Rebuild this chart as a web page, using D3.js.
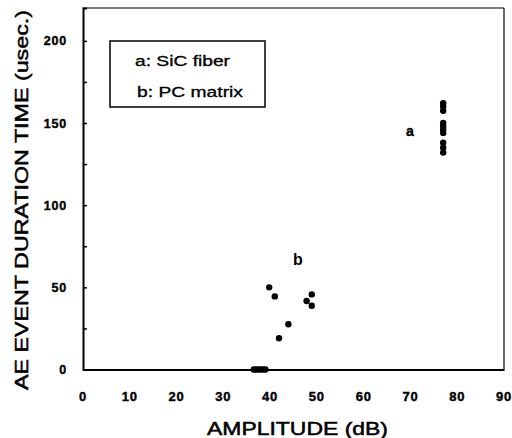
<!DOCTYPE html>
<html><head><meta charset="utf-8">
<script src="https://cdn.jsdelivr.net/npm/d3@7"></script>
<style>body{margin:0;background:#fff}svg{display:block}text{font-family:"Liberation Sans",Arial,sans-serif;fill:#000}</style>
</head><body>
<svg id="c" width="512" height="438"></svg>
<script>
// Data
const xTicks = [0,10,20,30,40,50,60,70,80,90];
const yTicks = [0,50,100,150,200];
const yMinorTicks = [0,25,50,75,100,125,150,175,200];
const fiberAmp = [77,77,77,77,77,77,77,77,77,77];
const fiberDur = [162,160,157.5,150,148,146,144,138,135,132];
const matrixAmp = [36.5,37,37.5,38,38.5,39,39.8,41,41.9,43.9,47.8,48.9,48.9];
const matrixDur = [0,0,0,0,0,0,50,44.5,19,27.5,41.7,45.7,38.8];
const legendLines = ["a: SiC fiber","b: PC matrix"];

const svg = d3.select("#c");
const L=83, R=504, T=8, B=369.5;
const x = d3.scaleLinear().domain([0,90]).range([L,R]);
const y = d3.scaleLinear().domain([0,220]).range([B,T]);

// frame
svg.append("line").attr("x1",L).attr("x2",R).attr("y1",T).attr("y2",T).attr("stroke","#000").attr("stroke-width",1.2);
svg.append("line").attr("x1",R).attr("x2",R).attr("y1",T).attr("y2",B).attr("stroke","#000").attr("stroke-width",1.2);

// y axis with inward ticks
const yAxis = d3.axisRight(y).tickValues(yMinorTicks).tickSize(4).tickFormat("");
const ya = svg.append("g").attr("transform",`translate(${L},0)`).call(yAxis);
ya.select(".domain").attr("stroke-width",2);
ya.selectAll(".tick line").attr("stroke-width",1.5);
// y labels
svg.append("g").selectAll("text").data(yTicks).join("text")
  .attr("x",67).attr("y",d=>y(d)+4.5).attr("text-anchor","end")
  .attr("font-size",12.5).attr("font-weight","bold").attr("letter-spacing",0.8)
  .attr("stroke","#000").attr("stroke-width",0.4)
  .text(d=>d);

// x axis
const xAxis = d3.axisBottom(x).tickValues(xTicks).tickSize(0).tickFormat("");
const xa = svg.append("g").attr("transform",`translate(0,${B})`).call(xAxis);
xa.select(".domain").attr("stroke-width",2);
svg.append("g").selectAll("text").data(xTicks).join("text")
  .attr("x",d=>x(d)).attr("y",401).attr("text-anchor","middle")
  .attr("font-size",13).attr("font-weight","bold").attr("letter-spacing",0.8)
  .attr("stroke","#000").attr("stroke-width",0.4)
  .text(d=>d);

// axis titles
svg.append("text").attr("x",207).attr("y",435).attr("font-size",18)
  .attr("stroke","#000").attr("stroke-width",0.5)
  .attr("textLength",181).attr("lengthAdjust","spacingAndGlyphs").text("AMPLITUDE (dB)");
svg.append("text").attr("transform","translate(28,390) rotate(-90)").attr("x",0).attr("y",0)
  .attr("font-size",18).attr("stroke","#000").attr("stroke-width",0.5)
  .attr("textLength",380).attr("lengthAdjust","spacingAndGlyphs")
  .text("AE EVENT DURATION TIME (usec.)");

// legend
svg.append("rect").attr("x",110).attr("y",41).attr("width",155).attr("height",66)
  .attr("fill","none").attr("stroke","#000").attr("stroke-width",1.5);
const lw=[95,106];
svg.selectAll("text.leg").data(legendLines).join("text").attr("class","leg")
  .attr("x",(d,i)=>135+i*2).attr("y",(d,i)=>66+i*31).attr("font-size",14)
  .attr("stroke","#000").attr("stroke-width",0.3)
  .attr("textLength",(d,i)=>lw[i]).attr("lengthAdjust","spacingAndGlyphs").text(d=>d);

// points
svg.append("g").selectAll("circle").data(fiberAmp.map((a,i)=>[a,fiberDur[i]])).join("circle")
  .attr("cx",d=>x(d[0])).attr("cy",d=>y(d[1])).attr("r",3.2).attr("fill","#000");
svg.append("g").selectAll("circle").data(matrixAmp.map((a,i)=>[a,matrixDur[i]])).join("circle")
  .attr("cx",d=>x(d[0])).attr("cy",d=>y(d[1])).attr("r",3.2).attr("fill","#000");

// point labels
svg.append("text").attr("x",406).attr("y",136).attr("font-size",14).attr("font-weight","bold")
  .attr("stroke","#000").attr("stroke-width",0.4).text("a");
svg.append("text").attr("x",293).attr("y",265).attr("font-size",16).attr("font-weight","bold").text("b");
</script>
</body></html>
